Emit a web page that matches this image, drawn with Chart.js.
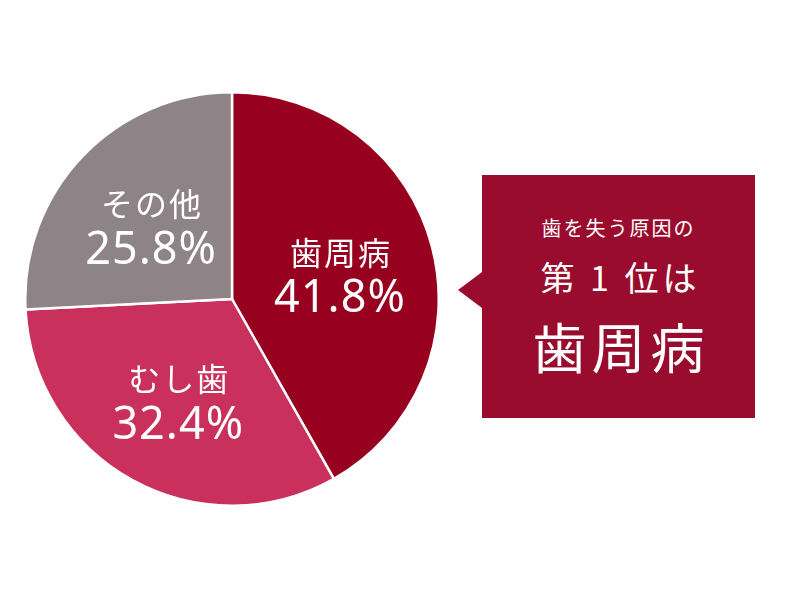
<!DOCTYPE html>
<html lang="ja">
<head>
<meta charset="utf-8">
<script src="https://cdn.jsdelivr.net/npm/chart.js@4"></script>
<style>
  html, body { margin: 0; padding: 0; background: #fff; }
  body { width: 800px; height: 590px; position: relative; overflow: hidden;
         font-family: "Noto Sans CJK JP", "Noto Sans", sans-serif; }
  #pieBox { position: absolute; left: 24px; top: 91px; width: 416px; height: 416px; }
  #callout { position: absolute; left: 482px; top: 175px; width: 273px; height: 243px;
             background: #9a0c2d; color: #fff; text-align: center; }
  #callout::before { content: ""; position: absolute; left: -24px; top: 97px;
             border-style: solid; border-width: 18px 24px 18px 0;
             border-color: transparent #9a0c2d transparent transparent; }
  #callout .l1 { position: absolute; left: 0; right: 0; top: 38px; font-size: 20px; letter-spacing: 2px; }
  #callout .l2 { position: absolute; left: 0; right: 0; top: 77px; font-size: 34px; letter-spacing: 4px; text-indent: 4px; }
  #callout .l3 { position: absolute; left: 0; right: 0; top: 131px; font-size: 54px; letter-spacing: 5px; text-indent: 5px; }
</style>
</head>
<body>
<div id="pieBox"><canvas id="pie"></canvas></div>
<div id="callout">
  <div class="l1">歯を失う原因の</div>
  <div class="l2">第 1 位は</div>
  <div class="l3">歯周病</div>
</div>
<script>
// data
const causes = ['歯周病', 'むし歯', 'その他'];
const shares = [41.8, 32.4, 25.8];
const sliceColors = ['#98001f', '#c9305c', '#8e8487'];

// labels inside the slices
const sliceLabels = {
  id: 'sliceLabels',
  afterDatasetsDraw(chart) {
    const ctx = chart.ctx;
    const arcs = chart.getDatasetMeta(0).data;
    ctx.save();
    ctx.fillStyle = '#fff';
    ctx.textAlign = 'center';
    ctx.textBaseline = 'middle';
    arcs.forEach((arc, i) => {
      const p = arc.getProps(['x', 'y', 'startAngle', 'endAngle', 'outerRadius'], true);
      const mid = (p.startAngle + p.endAngle) / 2;
      const r = p.outerRadius * 0.54;
      const cx = p.x + Math.cos(mid) * r;
      const cy = p.y + Math.sin(mid) * r;
      ctx.font = '400 32px "Noto Sans CJK JP"';
      ctx.letterSpacing = '2px';
      ctx.fillText(causes[i], cx + 1, cy - 18);
      ctx.font = '400 45px "Noto Sans", "Noto Sans CJK JP"';
      ctx.letterSpacing = '1px';
      ctx.fillText(shares[i].toFixed(1) + '%', cx, cy + 29);
    });
    ctx.restore();
  }
};

new Chart(document.getElementById('pie'), {
  type: 'pie',
  data: {
    labels: causes,
    datasets: [{
      data: shares,
      backgroundColor: sliceColors,
      borderColor: '#fff',
      borderWidth: 2.5
    }]
  },
  options: {
    responsive: true,
    maintainAspectRatio: false,
    animation: false,
    layout: { padding: 0 },
    plugins: {
      legend: { display: false },
      tooltip: { enabled: false }
    }
  },
  plugins: [sliceLabels]
});
</script>
</body>
</html>
